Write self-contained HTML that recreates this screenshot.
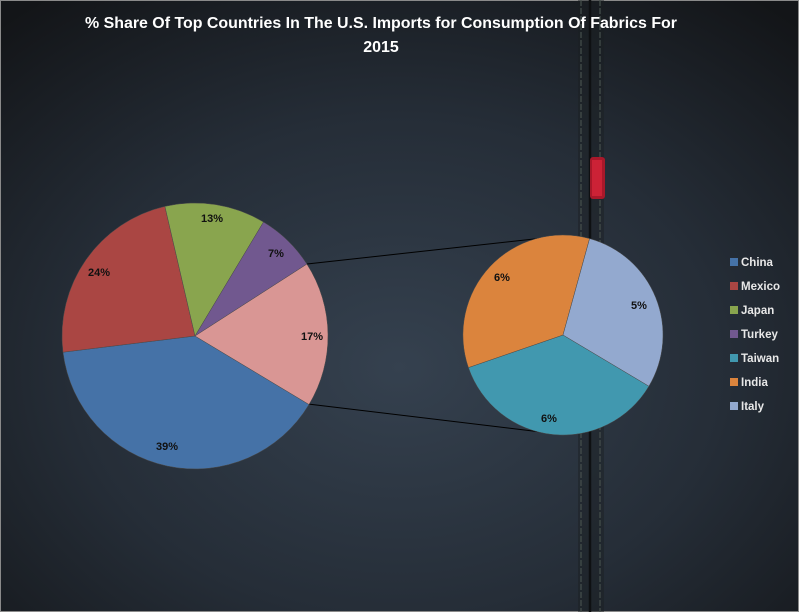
<!DOCTYPE html>
<html><head><meta charset="utf-8"><style>
html,body{margin:0;padding:0;background:#fff}
svg{display:block}
text{font-family:"Liberation Sans",sans-serif}
</style></head><body>
<svg width="799" height="612" viewBox="0 0 799 612" xmlns="http://www.w3.org/2000/svg">
<defs>
<radialGradient id="bg" cx="0.5" cy="0.6" r="0.75">
<stop offset="0" stop-color="#35414f"/>
<stop offset="0.55" stop-color="#252d37"/>
<stop offset="1" stop-color="#131518"/>
</radialGradient>
</defs>
<rect x="0" y="0" width="799" height="612" fill="url(#bg)"/>
<rect x="0.5" y="0.5" width="798" height="611" fill="none" stroke="#8a8a8a"/>
<!-- seam -->
<rect x="578" y="0" width="26" height="612" fill="#1a1e22" opacity="0.45"/>
<line x1="581" y1="0" x2="581" y2="612" stroke="#46504d" stroke-width="1.2" stroke-dasharray="6,2"/>
<line x1="600" y1="0" x2="600" y2="612" stroke="#46504d" stroke-width="1.2" stroke-dasharray="6,2"/>
<line x1="590" y1="0" x2="590" y2="612" stroke="#0e1012" stroke-width="2.5"/>
<rect x="590" y="157" width="15" height="42" rx="3" fill="#a8182a"/>
<rect x="592" y="160" width="10" height="36" fill="#cc2236"/>
<!-- title -->
<text x="381" y="28" text-anchor="middle" font-size="16" font-weight="bold" fill="#fff" textLength="592" lengthAdjust="spacingAndGlyphs">% Share Of Top Countries In The U.S. Imports for Consumption Of Fabrics For</text>
<text x="381" y="52" text-anchor="middle" font-size="16" font-weight="bold" fill="#fff">2015</text>
<!-- connectors -->
<line x1="307" y1="264" x2="561" y2="236" stroke="#000" stroke-width="1"/>
<line x1="308" y1="404" x2="541" y2="432" stroke="#000" stroke-width="1"/>
<!-- pie 1 -->
<g stroke="#4a4a4a" stroke-width="0.5">
<path d="M195,336 L309.0,404.5 A133,133 0 0,1 63.0,352.2 Z" fill="#4572a7"/>
<path d="M195,336 L63.0,352.2 A133,133 0 0,1 164.9,206.4 Z" fill="#aa4643"/>
<path d="M195,336 L164.9,206.4 A133,133 0 0,1 263.5,222.0 Z" fill="#89a54e"/>
<path d="M195,336 L263.5,222.0 A133,133 0 0,1 306.9,264.1 Z" fill="#71588f"/>
<path d="M195,336 L306.9,264.1 A133,133 0 0,1 309.0,404.5 Z" fill="#d99694"/>
</g>
<!-- pie 2 -->
<g stroke="#4a4a4a" stroke-width="0.5">
<path d="M563,335 L648.9,386.2 A100,100 0 0,1 468.4,367.6 Z" fill="#4198af"/>
<path d="M563,335 L468.4,367.6 A100,100 0 0,1 589.6,238.6 Z" fill="#db843d"/>
<path d="M563,335 L589.6,238.6 A100,100 0 0,1 648.9,386.2 Z" fill="#93a9cf"/>
</g>
<g font-size="11" font-weight="bold" fill="#111" text-anchor="middle">
<text x="167" y="450">39%</text>
<text x="99" y="276">24%</text>
<text x="212" y="222">13%</text>
<text x="276" y="257">7%</text>
<text x="312" y="340">17%</text>
<text x="502" y="281">6%</text>
<text x="639" y="309">5%</text>
<text x="549" y="422">6%</text>
</g>
<!-- legend -->
<g font-size="11.5" font-weight="bold" fill="#e8e8e8">
<rect x="730" y="258" width="8" height="8" fill="#4572a7"/><text x="741" y="266">China</text>
<rect x="730" y="282" width="8" height="8" fill="#aa4643"/><text x="741" y="290">Mexico</text>
<rect x="730" y="306" width="8" height="8" fill="#89a54e"/><text x="741" y="314">Japan</text>
<rect x="730" y="330" width="8" height="8" fill="#71588f"/><text x="741" y="338">Turkey</text>
<rect x="730" y="354" width="8" height="8" fill="#4198af"/><text x="741" y="362">Taiwan</text>
<rect x="730" y="378" width="8" height="8" fill="#db843d"/><text x="741" y="386">India</text>
<rect x="730" y="402" width="8" height="8" fill="#93a9cf"/><text x="741" y="410">Italy</text>
</g>
</svg>
</body></html>
